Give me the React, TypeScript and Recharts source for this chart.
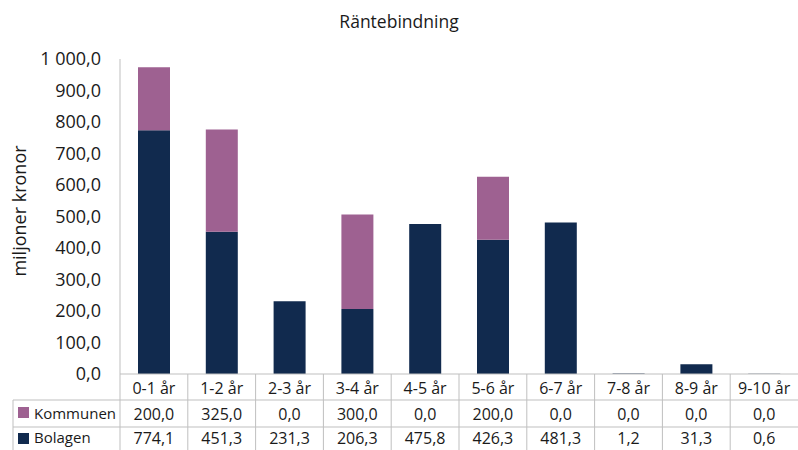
import { BarChart, Bar, XAxis, YAxis } from "recharts";

const categories = ["0-1 år", "1-2 år", "2-3 år", "3-4 år", "4-5 år", "5-6 år", "6-7 år", "7-8 år", "8-9 år", "9-10 år"];
const kommunen = [200.0, 325.0, 0.0, 300.0, 0.0, 200.0, 0.0, 0.0, 0.0, 0.0];
const bolagen = [774.1, 451.3, 231.3, 206.3, 475.8, 426.3, 481.3, 1.2, 31.3, 0.6];
const yTicks = [0, 100, 200, 300, 400, 500, 600, 700, 800, 900, 1000];

const NAVY = "#112a4e";
const PURPLE = "#9e6191";
const GRID = "#bfbfbf";
const INK = "#1a1a1a";
const FONT = "'Open Sans', sans-serif";

const data = categories.map((cat, i) => ({
  cat,
  kommunen: kommunen[i],
  bolagen: bolagen[i],
}));

// svensk formatering: "1 000,0"
function fmt(v: number): string {
  const [int, dec] = v.toFixed(1).split(".");
  return int.replace(/\B(?=(\d{3})+(?!\d))/g, " ") + "," + dec;
}

const ROW1 = 26; // kategorirad
const ROW2 = 53; // kommunen-rad

function TableTick(props: any) {
  const { x, y, payload, index, width, visibleTicksCount } = props;
  const half = payload?.offset || width / visibleTicksCount / 2;
  const left = x - half;
  const right = x + half;
  const i = index as number;
  return (
    <g fontFamily={FONT} fill={INK}>
      <line x1={left} x2={left} y1={y} y2={450} stroke={GRID} />
      <line x1={left} x2={right} y1={y + ROW1} y2={y + ROW1} stroke={GRID} />
      <line x1={left} x2={right} y1={y + ROW2} y2={y + ROW2} stroke={GRID} />
      <text x={x} y={y + 20} textAnchor="middle" fontSize={16}>{categories[i]}</text>
      <text x={x} y={y + 46} textAnchor="middle" fontSize={16}>{fmt(kommunen[i])}</text>
      <text x={x} y={y + 70} textAnchor="middle" fontSize={16}>{fmt(bolagen[i])}</text>
      {i === 0 && (
        <g>
          <line x1={13} x2={left} y1={y + ROW1} y2={y + ROW1} stroke={GRID} />
          <line x1={13} x2={left} y1={y + ROW2} y2={y + ROW2} stroke={GRID} />
          <line x1={13} x2={13} y1={y + ROW1} y2={450} stroke={GRID} />
          <rect x={18} y={y + 33} width={11} height={11} fill={PURPLE} />
          <text x={34} y={y + 45} fontSize={15}>Kommunen</text>
          <rect x={18} y={y + 59} width={11} height={11} fill={NAVY} />
          <text x={34} y={y + 69} fontSize={15}>Bolagen</text>
        </g>
      )}
    </g>
  );
}

export default function App() {
  return (
    <div style={{ position: "absolute", left: 0, top: 0, width: 798, height: 450, background: "#fff" }}>
      <div
        style={{
          position: "absolute",
          left: 0,
          width: 798,
          top: 9,
          textAlign: "center",
          fontFamily: FONT,
          fontSize: 17.5,
          color: INK,
        }}
      >
        Räntebindning
      </div>
      <div
        style={{
          position: "absolute",
          left: 19,
          top: 211,
          transform: "translate(-50%, -50%) rotate(-90deg)",
          whiteSpace: "nowrap",
          fontFamily: FONT,
          fontSize: 18,
          color: INK,
        }}
      >
        miljoner kronor
      </div>
      <BarChart width={798} height={450} data={data} margin={{ top: 59, right: 0, bottom: 0, left: 10 }}>
        <XAxis
          dataKey="cat"
          height={76}
          interval={0}
          tickLine={false}
          tickSize={0}
          tickMargin={0}
          axisLine={{ stroke: GRID }}
          tick={<TableTick />}
        />
        <YAxis
          width={110}
          domain={[0, 1000]}
          ticks={yTicks}
          tickFormatter={fmt}
          tickLine={false}
          tickSize={0}
          tickMargin={19}
          axisLine={{ stroke: GRID }}
          tick={{ fontSize: 18, fill: INK, fontFamily: FONT }}
        />
        <Bar dataKey="bolagen" stackId="a" fill={NAVY} barSize={32} isAnimationActive={false} />
        <Bar dataKey="kommunen" stackId="a" fill={PURPLE} barSize={32} isAnimationActive={false} />
      </BarChart>
    </div>
  );
}
